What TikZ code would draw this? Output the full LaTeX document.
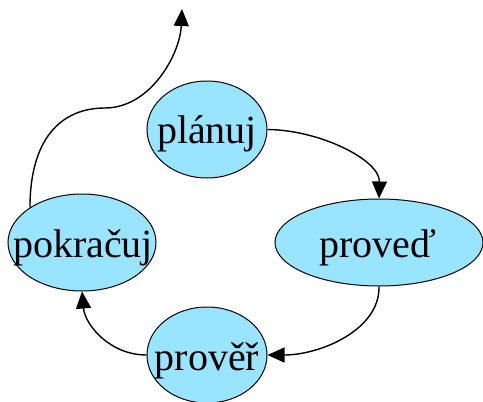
\documentclass[tikz,border=0pt]{standalone}
\usepackage{fontspec}
\setmainfont{Liberation Serif}
\usetikzlibrary{shapes.geometric,arrows.meta}
\newlength{\du}
\setlength{\du}{1pt}
\definecolor{stavcolor}{rgb}{0.600000, 0.900000, 1.000000}
\tikzset{
  stav/.style={ellipse, draw=black, fill=stavcolor, line width=1\du, inner sep=0pt},
  popis/.style={anchor=base, inner sep=0pt, font=\fontsize{40\du}{48\du}\selectfont},
  hrana/.style={line width=1.4\du, -{Triangle[length=17pt,width=15pt]}}
}

\begin{document}
\begin{tikzpicture}
\pgftransformxscale{1.000000}
\pgftransformyscale{-1.000000}
\useasboundingbox (0\du,0\du) rectangle (483\du,402\du);
% stavy
\node[stav, minimum width=120\du, minimum height=97\du] (planuj) at (207\du,129.5\du) {};
\node[stav, minimum width=208\du, minimum height=87\du] (proved) at (379\du,242.5\du) {};
\node[stav, minimum width=120\du, minimum height=96\du] (prover) at (207\du,355\du) {};
\node[stav, minimum width=148\du, minimum height=97\du] (pokracuj) at (82\du,242.5\du) {};
% hrany
\draw[hrana] (planuj.east) .. controls (320\du,130\du) and (380\du,160\du) .. (proved.north);
\draw[hrana] (proved.south) .. controls (380\du,330\du) and (320\du,355\du) .. (prover.east);
\draw[hrana] (prover.west) .. controls (110\du,355\du) and (85\du,325\du) .. (pokracuj.south);
% ven z cyklu
\coordinate (ohyb) at (105\du,108\du);
\coordinate (ven) at (182\du,9\du);
\draw[line width=1.4\du] (pokracuj.146) .. controls (30\du,140\du) and (60\du,108\du) .. (ohyb);
\draw[hrana] (ohyb) .. controls (150\du,108\du) and (180\du,55\du) .. (ven);
% popisky
\node[popis] (planujtxt) at (207\du,143\du) {plánuj};
\node[popis] (provedtxt) at (378\du,257\du) {proveď};
\node[popis] (provertxt) at (207\du,370\du) {prověř};
\node[popis] (pokracujtxt) at (83\du,257\du) {pokračuj};
\end{tikzpicture}
\end{document}
